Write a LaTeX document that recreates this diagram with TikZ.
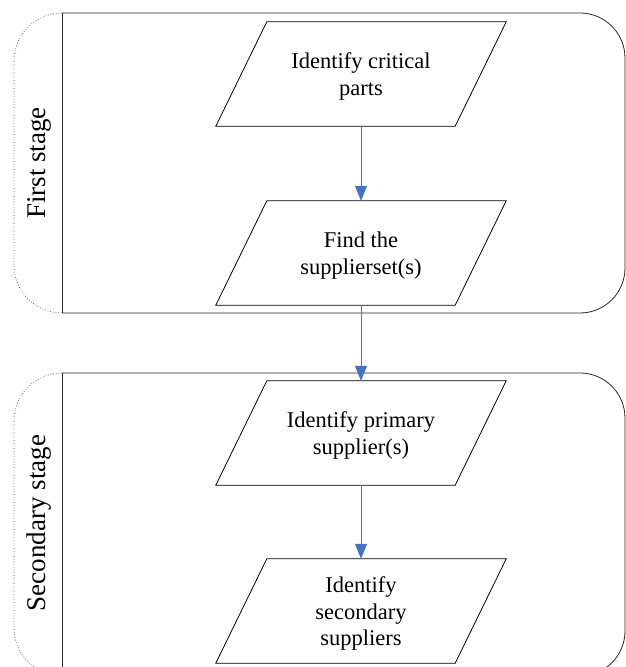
\documentclass[tikz,border=0pt]{standalone}
\usepackage{fontspec}
\setmainfont{Liberation Serif}
\usetikzlibrary{arrows.meta}
\definecolor{arrblue}{HTML}{4472C4}
\begin{document}
\begin{tikzpicture}[x=1pt,y=-1pt,
  stageline/.style={draw=black!85,line width=0.8pt},
  dotline/.style={draw=black!70,line width=0.7pt,dotted},
  proc/.style={rectangle,minimum width=290pt,minimum height=104pt,inner sep=0pt,
    align=center,font=\fontsize{22.5}{26.5}\selectfont},
  stagelabel/.style={rotate=90,font=\fontsize{27}{30}\selectfont},
  arr/.style={draw=arrblue,line width=1pt,-{Triangle[width=12pt,length=15pt]}}]
\useasboundingbox (0,0) rectangle (626,667);
% stage 1
\draw[stageline,rounded corners=45pt] (62,13) -- (625,13) -- (625,313) -- (62,313);
\draw[stageline] (62,13) -- (62,313);
\draw[dotline,rounded corners=48pt] (62,13) -- (14,13) -- (14,313) -- (62,313);
\node[stagelabel] (s1) at (39,163) {First stage};
% stage 2
\draw[stageline,rounded corners=45pt] (62,373) -- (625,373) -- (625,676) -- (62,676);
\draw[stageline] (62,373) -- (62,676);
\draw[dotline,rounded corners=48pt] (62,373) -- (14,373) -- (14,676) -- (62,676);
\node[stagelabel] (s2) at (39,523) {Secondary stage};
% process nodes
\node[proc] (p1) at (361,74) {};
\node[proc] (p2) at (361,253) {};
\node[proc] (p3) at (361,433) {};
\node[proc] (p4) at (361,611) {};
\foreach \n in {p1,p2,p3,p4}{
  \draw[line width=0.8pt,fill=white] ([xshift=51pt]\n.north west) -- (\n.north east)
    -- ([xshift=-51pt]\n.south east) -- (\n.south west) -- cycle;
}
\node[proc] (t1) at ([yshift=-2.5pt]p1) {Identify critical\\parts};
\node[proc] (t2) at ([yshift=-2.5pt]p2) {Find the\\supplierset(s)};
\node[proc] (t3) at ([yshift=-2.5pt]p3) {Identify primary\\supplier(s)};
\node[proc] (t4) at ([yshift=-2.5pt]p4) {Identify\\secondary\\suppliers};
% connectors
\draw[arr] (p1.south) -- (p2.north);
\draw[arr] (p2.south) -- (p3.north);
\draw[arr] (p3.south) -- (p4.north);
\end{tikzpicture}
\end{document}
